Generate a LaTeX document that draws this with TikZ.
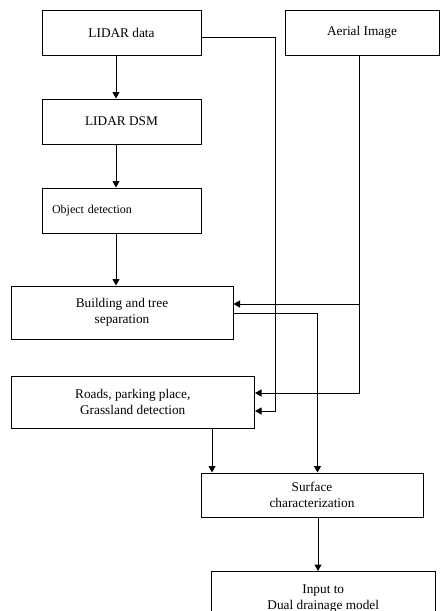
\documentclass[tikz,border=0pt]{standalone}
\usepackage{fontspec}
\setmainfont{Liberation Serif}
\usetikzlibrary{arrows.meta}
\begin{document}
\begin{tikzpicture}[x=1pt,y=-1pt,
  box/.style={draw,line width=1pt,inner sep=0pt,align=center,font=\fontsize{13.3}{15.6}\selectfont},
  arr/.style={line width=1pt,-{Triangle[width=7pt,length=6.5pt]}},
  ln/.style={line width=1pt}]
\useasboundingbox (0,0) rectangle (440,611);
\node[box,minimum width=159pt,minimum height=45pt] (lidar) at (121.5,32.5) {LIDAR data};
\node[box,minimum width=154pt,minimum height=45pt] (aerial) at (362,32.5) {Aerial Image};
\node[box,minimum width=159pt,minimum height=45pt] (dsm) at (121.5,121.5) {LIDAR DSM};
\node[box,minimum height=45pt,text width=139pt,inner xsep=10pt,align=left,font=\fontsize{12}{14}\selectfont] (obj) at (121.5,210.5) {Object detection};
\node[box,minimum width=222pt,minimum height=53pt] (build) at (122,312.5) {Building and tree\\separation};
\node[box,minimum width=243.5pt,minimum height=52pt] (roads) at (132.75,402) {Roads, parking place,\\Grassland detection};
\node[box,minimum width=222pt,minimum height=44pt] (surf) at (312,495) {Surface\\characterization};
\node[box,minimum width=223.5pt,minimum height=54pt,anchor=north] (input) at (323.25,571) {Input to\\Dual drainage model};
\coordinate (c1) at (275,37);
\coordinate (c2) at (275,411);
\coordinate (a1) at (359,304);
\coordinate (a2) at (359,393);
\coordinate (b1) at (317.5,313);
\draw[arr] (lidar.south -| 116,0) -- (dsm.north -| 116,0);
\draw[arr] (dsm.south -| 116,0) -- (obj.north -| 116,0);
\draw[arr] (obj.south -| 116,0) -- (build.north -| 116,0);
\draw[arr] (lidar.east |- c1) -- (c1) -- (c2) -- (roads.east |- c2);
\draw[arr] (aerial.south -| a2) -- (a2) -- (roads.east |- a2);
\draw[arr] (a1) -- (build.east |- a1);
\draw[arr] (build.east |- b1) -- (b1) -- (surf.north -| b1);
\draw[arr] (roads.south -| 212,0) -- (surf.north -| 212,0);
\draw[arr] (surf.south -| 318,0) -- (input.north -| 318,0);
\end{tikzpicture}
\end{document}
